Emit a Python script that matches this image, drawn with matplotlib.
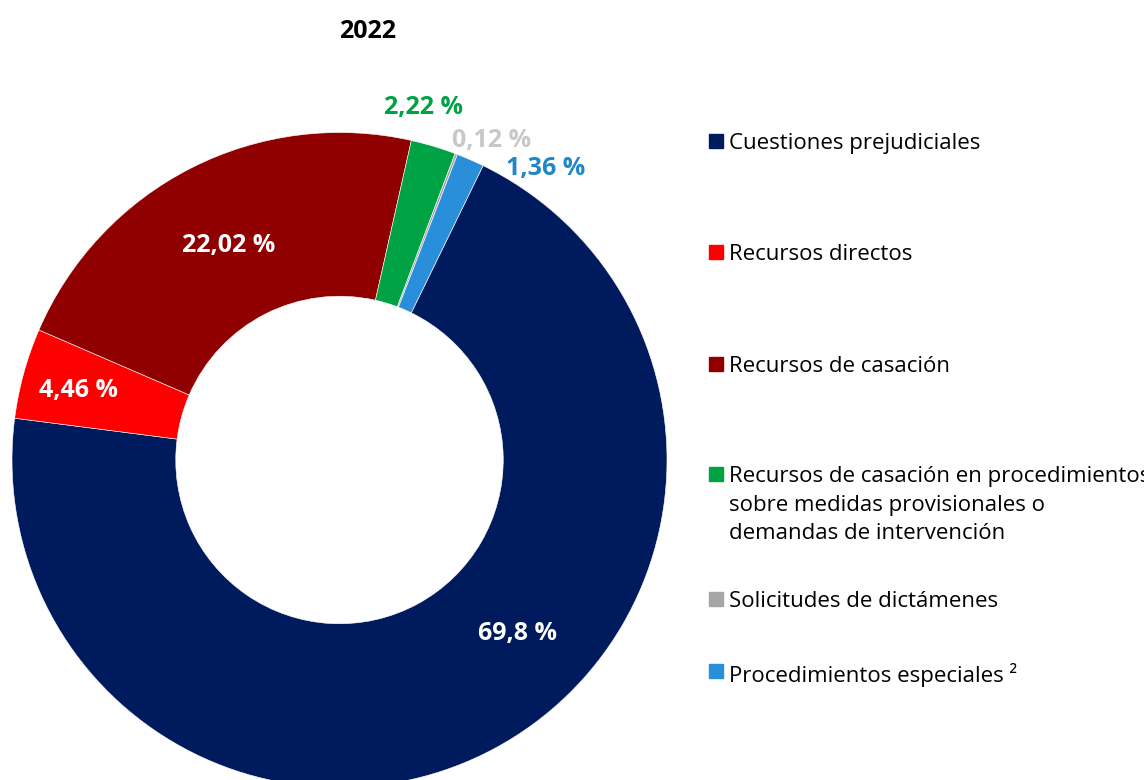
import matplotlib
matplotlib.use('Agg')
import matplotlib.pyplot as plt
from matplotlib.patches import Rectangle

plt.rcParams['font.family'] = ['Open Sans', 'DejaVu Sans']

categories = ['Cuestiones prejudiciales',
              'Recursos directos',
              'Recursos de casación',
              'Recursos de casación en procedimientos\nsobre medidas provisionales o\ndemandas de intervención',
              'Solicitudes de dictámenes',
              'Procedimientos especiales ²']
values = [69.8, 4.46, 22.02, 2.22, 0.12, 1.36]
value_labels = ['69,8 %', '4,46 %', '22,02 %', '2,22 %', '0,12 %', '1,36 %']
slice_colors = ['#001A5E', '#FF0000', '#900000', '#00A344', '#A6A6A6', '#2A8FDB']
label_colors = ['white', 'white', 'white', '#00A344', '#C8C8C8', '#1F87C8']
# label positions relative to the centre (pie radius = 1)
label_pos = [(0.545, -0.530), (-0.798, 0.212), (-0.340, 0.655),
             (0.258, 1.076), (0.463, 0.975), (0.630, 0.890)]
legend_y = [141, 252, 364, 474, 599, 671]

W, H = 1144, 780
fig = plt.figure(figsize=(W / 100, H / 100), dpi=100)

cx, cy, r = 339.5, 460, 327.5
ax = fig.add_axes([(cx - r) / W, (H - cy - r) / H, 2 * r / W, 2 * r / H])
ax.pie(values, colors=slice_colors, startangle=64, counterclock=False,
       radius=1, wedgeprops=dict(width=0.5, linewidth=0.4, edgecolor='white'))
ax.set_xlim(-1, 1)
ax.set_ylim(-1, 1)
ax.set_aspect('equal')
ax.axis('off')

for txt, col, (x, y) in zip(value_labels, label_colors, label_pos):
    ax.text(x, y, txt, color=col, fontsize=18, fontweight='bold',
            ha='center', va='center', clip_on=False)

fig.text(368 / W, 1 - 31 / H, '2022', fontsize=18, fontweight='bold',
         ha='center', va='center')

# legend drawn by hand
for name, col, y in zip(categories, slice_colors, legend_y):
    fig.patches.append(Rectangle((709 / W, 1 - (y + 7) / H), 14 / W, 14 / H,
                                 transform=fig.transFigure, color=col))
    fig.text(729 / W, 1 - (y - 8) / H, name, fontsize=16, ha='left', va='top',
             linespacing=1.48)

fig.savefig('out.png', dpi=100)
